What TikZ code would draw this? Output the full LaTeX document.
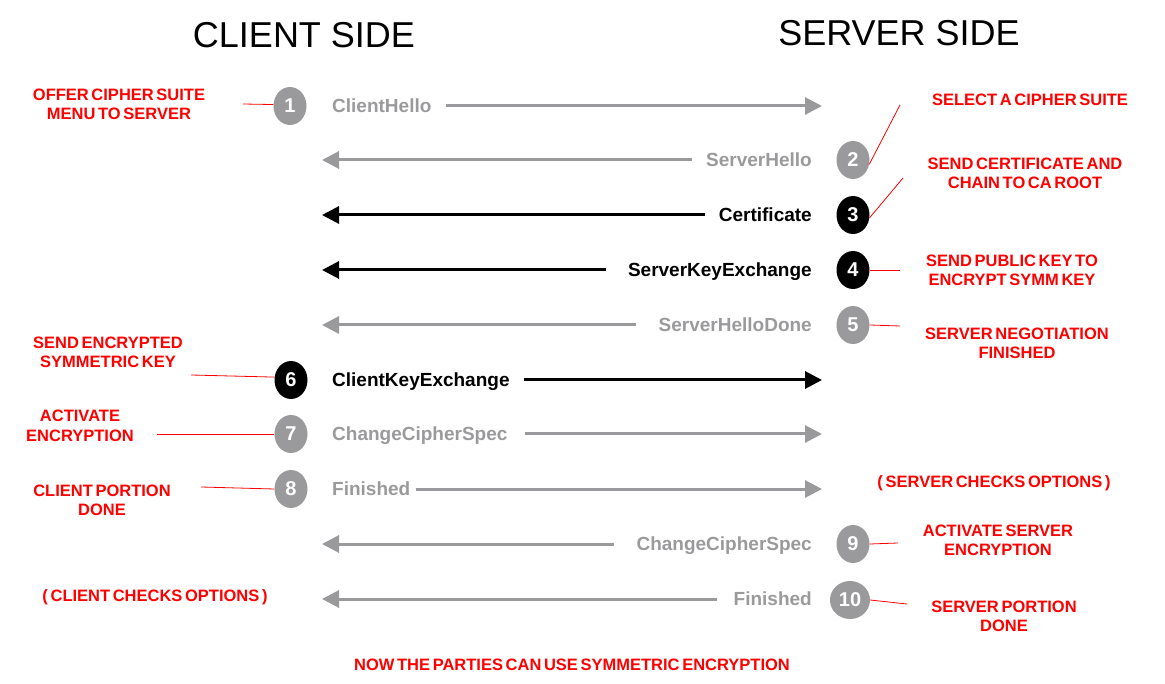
\documentclass[tikz,border=0pt]{standalone}
\usepackage{fontspec}
\setmainfont{Liberation Sans}
\usetikzlibrary{arrows.meta,shapes.geometric}
\definecolor{msggray}{HTML}{9A9A9C}
\newcommand\notefont{\fontsize{16.5}{19.5}\selectfont\bfseries\spaceskip=0.16em plus 0.05em\relax}
\begin{document}
\begin{tikzpicture}
    [x=1pt,y=-1pt,
    side/.style={font=\fontsize{36}{40}\selectfont},
    note/.style={text=red,align=center,inner sep=0pt,font=\notefont},
    ball/.style={ellipse,fill=#1,text=white,minimum width=33pt,minimum height=38pt,
      inner sep=0pt,font=\fontsize{20}{20}\selectfont\bfseries},
    msg/.style={text=#1,inner sep=0pt,text height=13.6pt,text depth=0pt,
      font=\fontsize{19}{19}\selectfont\bfseries},
    flow/.style={draw=#1,line width=3pt,-{Triangle[length=17pt,width=17pt]},shorten <=14pt},
    tie/.style={red,line width=0.8pt}]
    \useasboundingbox (0,0) rectangle (1165,684);
    %sides
    \node[side] (client) at (304,35) {CLIENT SIDE};
    \node[side] (server) at (899,33) {SERVER SIDE};
    %numbered steps
    \node[ball=msggray] (n1) at (290,106) {1};
    \node[ball=msggray] (n2) at (853,160) {2};
    \node[ball=black] (n3) at (853,215) {3};
    \node[ball=black] (n4) at (853,270) {4};
    \node[ball=msggray] (n5) at (853,325) {5};
    \node[ball=black] (n6) at (291,380) {6};
    \node[ball=msggray] (n7) at (291,434) {7};
    \node[ball=msggray] (n8) at (291,489) {8};
    \node[ball=msggray] (n9) at (853,544) {9};
    \node[ball=msggray,minimum width=40pt] (n10) at (850,600) {10};
    %messages
    \node[msg=msggray,anchor=west] (m1) at (332,106) {ClientHello};
    \node[msg=msggray,anchor=east] (m2) at (812,160) {ServerHello};
    \node[msg=black,anchor=east] (m3) at (812,215) {Certificate};
    \node[msg=black,anchor=east] (m4) at (812,270) {ServerKeyExchange};
    \node[msg=msggray,anchor=east] (m5) at (812,325) {ServerHelloDone};
    \node[msg=black,anchor=west] (m6) at (332,380) {ClientKeyExchange};
    \node[msg=msggray,anchor=west] (m7) at (332,434) {ChangeCipherSpec};
    \node[msg=msggray,anchor=west] (m8) at (332,489) {Finished};
    \node[msg=msggray,anchor=east] (m9) at (812,544) {ChangeCipherSpec};
    \node[msg=msggray,anchor=east] (m10) at (812,599) {Finished};
    %arrow ends
    \coordinate (e1) at (822,106);
    \coordinate (e2) at (322,160);
    \coordinate (e3) at (322,215);
    \coordinate (e4) at (322,270);
    \coordinate (e5) at (322,325);
    \coordinate (e6) at (822,380);
    \coordinate (e7) at (822,434);
    \coordinate (e8) at (822,489);
    \coordinate (e9) at (322,544);
    \coordinate (e10) at (322,599);
    \draw[flow=msggray] (m1.east) -- (e1);
    \draw[flow=msggray] (m2.west) -- (e2);
    \draw[flow=black] (m3.west) -- (e3);
    \draw[flow=black,shorten <=22pt] (m4.west) -- (e4);
    \draw[flow=msggray,shorten <=22pt] (m5.west) -- (e5);
    \draw[flow=black] (m6.east) -- (e6);
    \draw[flow=msggray,shorten <=17pt] (m7.east) -- (e7);
    \draw[flow=msggray,shorten <=5pt] (m8.east) -- (e8);
    \draw[flow=msggray,shorten <=22pt] (m9.west) -- (e9);
    \draw[flow=msggray,shorten <=16pt] (m10.west) -- (e10);
    %red notes
    \node[note] (offer) at (119,104.5) {OFFER CIPHER SUITE\\MENU TO SERVER};
    \node[note] (select) at (1030,100) {SELECT A CIPHER SUITE};
    \node[note] (cert) at (1025,173.5) {SEND CERTIFICATE AND\\CHAIN TO CA ROOT};
    \node[note] (pubkey) at (1012,270.5) {SEND PUBLIC KEY TO\\ENCRYPT SYMM KEY};
    \node[note] (nego) at (1017,343.5) {SERVER NEGOTIATION\\FINISHED};
    \node[note] (encsym) at (108,352.5) {SEND ENCRYPTED\\SYMMETRIC KEY};
    \node[note] (activ) at (80,426) {ACTIVATE\\ENCRYPTION};
    \node[note] (cdone) at (102,500.5) {CLIENT PORTION\\DONE};
    \node[note] (schk) at (994,483) {( SERVER CHECKS OPTIONS )};
    \node[note] (actsrv) at (998,540.5) {ACTIVATE SERVER\\ENCRYPTION};
    \node[note] (sdone) at (1004,616.5) {SERVER PORTION\\DONE};
    \node[note] (cchk) at (155,597) {( CLIENT CHECKS OPTIONS )};
    \node[note] (now) at (572,665) {NOW THE PARTIES CAN USE SYMMETRIC ENCRYPTION};
    %red ties
    \coordinate (t1) at (243,104);
    \coordinate (t2) at (900,105);
    \coordinate (t3) at (903,178);
    \coordinate (t4) at (900,270);
    \coordinate (t5) at (900,326);
    \coordinate (t6) at (191,375);
    \coordinate (t7) at (157,434);
    \coordinate (t8) at (201,487);
    \coordinate (t9) at (898,543);
    \coordinate (t10) at (907,604);
    \draw[tie] (t1) -- (n1.175);
    \draw[tie] (n2.-15) -- (t2);
    \draw[tie] (n3.-10) -- (t3);
    \draw[tie] (n4.east) -- (t4);
    \draw[tie] (n5.east) -- (t5);
    \draw[tie] (t6) -- (n6.170);
    \draw[tie] (t7) -- (n7.west);
    \draw[tie] (t8) -- (n8.west);
    \draw[tie] (n9.east) -- (t9);
    \draw[tie] (n10.east) -- (t10);
\end{tikzpicture}
\end{document}
